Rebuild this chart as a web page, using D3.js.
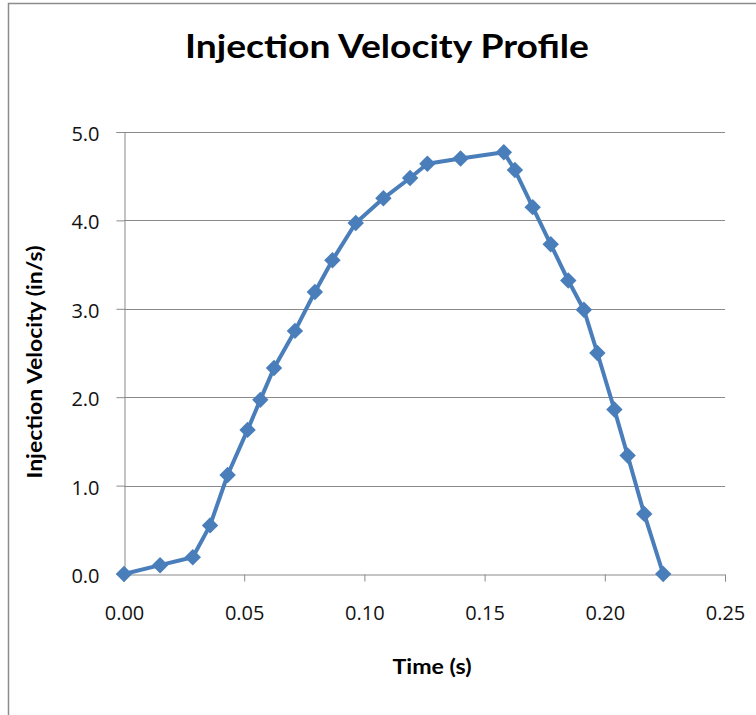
<!DOCTYPE html>
<html><head><meta charset="utf-8">
<script src="https://cdn.jsdelivr.net/npm/d3@7"></script>
<style>
html,body{margin:0;padding:0;background:#fff;}
svg{display:block;}
</style></head>
<body>
<svg id="chart" width="756" height="715"></svg>
<script>
const times = [0.000,0.015,0.0286,0.0358,0.0431,0.0514,0.0567,0.0624,0.0711,0.0794,0.0867,0.0964,0.1079,0.1190,0.1262,0.1400,0.1580,0.1626,0.1700,0.1775,0.1848,0.1913,0.1969,0.2040,0.2095,0.2164,0.2243];
const velocities = [0.00,0.10,0.19,0.55,1.12,1.63,1.97,2.33,2.75,3.19,3.55,3.97,4.25,4.48,4.64,4.70,4.77,4.57,4.15,3.73,3.32,2.99,2.50,1.86,1.34,0.68,0.00];
const xTicks = [0,0.05,0.10,0.15,0.20,0.25];
const yTicks = [0,1,2,3,4,5];
const title = "Injection Velocity Profile";
const xTitle = "Time (s)";
const yTitle = "Injection Velocity (in/s)";

const data = times.map((t,i)=>({t, v: velocities[i]}));
const svg = d3.select("#chart");
const L=124, R=725, T=132, B=574;
const x = d3.scaleLinear().domain([0,0.25]).range([L,R]);
const y = d3.scaleLinear().domain([0,5]).range([B,T]);
const grid="#8a8a8a";

// outer chart border
svg.append("path").attr("d","M8.5,760 L8.5,3.5 L800,3.5").attr("fill","none").attr("stroke","#8c8c8c").attr("stroke-width",1.5);

// gridlines
svg.append("g").selectAll("line").data(yTicks.filter(d=>d>0)).join("line")
  .attr("x1",L).attr("x2",R).attr("y1",d=>Math.round(y(d))+0.5).attr("y2",d=>Math.round(y(d))+0.5)
  .attr("stroke",grid).attr("stroke-width",1);

// y axis
const yAxis = svg.append("g").attr("transform",`translate(${L+0.5},0)`)
  .call(d3.axisLeft(y).tickValues(yTicks).tickFormat(d3.format(".1f")).tickSize(8).tickPadding(17));
yAxis.select(".domain").attr("stroke",grid);
yAxis.selectAll(".tick line").attr("stroke",grid);
yAxis.selectAll("text").attr("font-family","'Open Sans'").attr("font-size",20).attr("fill","#111").attr("dy","0.42em");

// x axis
const xAxis = svg.append("g").attr("transform",`translate(0,${B+0.5})`)
  .call(d3.axisBottom(x).tickValues(xTicks).tickFormat(d3.format(".2f")).tickSize(7).tickPadding(24));
xAxis.select(".domain").attr("stroke",grid);
xAxis.selectAll(".tick line").attr("stroke",grid);
xAxis.selectAll("text").attr("font-family","'Open Sans'").attr("font-size",20).attr("fill","#111");

// line
const blue="#4A7EBB";
svg.append("path").datum(data)
  .attr("d", d3.line().x(d=>x(d.t)).y(d=>y(d.v)))
  .attr("fill","none").attr("stroke",blue).attr("stroke-width",4).attr("stroke-linejoin","round");

// markers
svg.append("g").selectAll("path").data(data).join("path")
  .attr("d", d3.symbol(d3.symbolSquare,135))
  .attr("transform", d=>`translate(${x(d.t)},${y(d.v)}) rotate(45)`)
  .attr("fill",blue);

// titles
svg.append("text").attr("x",387).attr("y",58).attr("text-anchor","middle")
  .attr("font-family","Lato").attr("font-weight","bold").attr("font-size",32)
  .attr("textLength",404).attr("lengthAdjust","spacingAndGlyphs").text(title);
svg.append("text").attr("x",432).attr("y",674).attr("text-anchor","middle")
  .attr("font-family","Lato").attr("font-weight","bold").attr("font-size",21)
  .attr("textLength",79).attr("lengthAdjust","spacingAndGlyphs").text(xTitle);
svg.append("text").attr("transform","translate(42,362) rotate(-90)").attr("text-anchor","middle")
  .attr("font-family","Lato").attr("font-weight","bold").attr("font-size",21)
  .attr("textLength",233).attr("lengthAdjust","spacingAndGlyphs").text(yTitle);
</script>
</body></html>
